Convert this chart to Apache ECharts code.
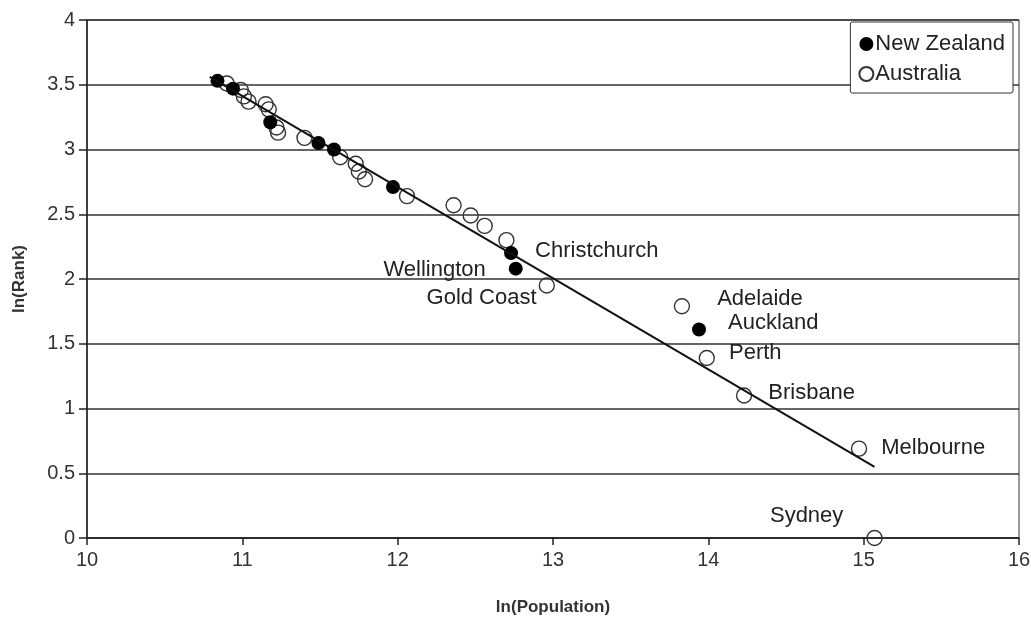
<!DOCTYPE html>
<html>
<head>
<meta charset="utf-8">
<script src="https://cdn.jsdelivr.net/npm/echarts@6/dist/echarts.min.js"></script>
<style>
html,body{margin:0;padding:0;background:#fff;}
#chart{width:1031px;height:619px;}
</style>
</head>
<body>
<div id="chart"></div>
<script>
// ---- data ----
var nzX = [10.84, 10.94, 11.18, 11.49, 11.59, 11.97, 12.73, 12.76, 13.94];
var nzY = [3.53, 3.47, 3.21, 3.05, 3.00, 2.71, 2.20, 2.08, 1.61];
var nzNames = ['', '', '', '', '', '', 'Christchurch', 'Wellington', 'Auckland'];

var auX = [10.90, 10.99, 11.01, 11.04, 11.15, 11.17, 11.22, 11.23, 11.40, 11.63, 11.73, 11.75, 11.79, 12.06, 12.36, 12.47, 12.56, 12.70, 12.96, 13.83, 13.99, 14.23, 14.97, 15.07];
var auY = [3.51, 3.46, 3.41, 3.37, 3.35, 3.31, 3.17, 3.13, 3.09, 2.94, 2.89, 2.83, 2.77, 2.64, 2.57, 2.49, 2.41, 2.30, 1.95, 1.79, 1.39, 1.10, 0.69, 0.00];
var auNames = ['', '', '', '', '', '', '', '', '', '', '', '', '', '', '', '', '', '', 'Gold Coast', 'Adelaide', 'Perth', 'Brisbane', 'Melbourne', 'Sydney'];

var trendX = [10.79, 15.07];
var trendY = [3.56, 0.55];

var seriesNames = ['New Zealand', 'Australia'];
var xTicks = {min: 10, max: 16, interval: 1};
var yTicks = {min: 0, max: 4, interval: 0.5};

// ---- label placement (style, not data) ----
var labelPlacement = {
  'Christchurch': {position: 'right', distance: 17, offset: [0, -2]},
  'Wellington':   {position: 'left',  distance: 23, offset: [0, 1]},
  'Auckland':     {position: 'right', distance: 22, offset: [0, -7]},
  'Gold Coast':   {position: 'left',  distance: 5,  offset: [3, 12]},
  'Adelaide':     {position: 'right', distance: 27, offset: [0, -7]},
  'Perth':        {position: 'right', distance: 14, offset: [0, -5]},
  'Brisbane':     {position: 'right', distance: 16, offset: [0, -3]},
  'Melbourne':    {position: 'right', distance: 14, offset: [0, -1]},
  'Sydney':       {position: 'left',  distance: 23, offset: [0, -22]}
};

var FONT = '"Liberation Sans", Arial, sans-serif';

function buildPoints(xs, ys, names) {
  return xs.map(function (x, i) {
    var item = {value: [x, ys[i]], name: names[i]};
    var p = labelPlacement[names[i]];
    if (names[i] && p) {
      item.label = {
        show: true,
        formatter: names[i],
        position: p.position,
        distance: p.distance,
        offset: p.offset,
        color: '#222',
        fontSize: 22,
        fontFamily: FONT
      };
    }
    return item;
  });
}

var chart = echarts.init(document.getElementById('chart'), null, {renderer: 'canvas'});

var option = {
  backgroundColor: '#fff',
  animation: false,
  grid: {
    left: 87, right: 12, top: 20, bottom: 81,
    outerBoundsMode: 'none',
    containLabel: false,
    show: true, borderColor: '#333', borderWidth: 1, backgroundColor: 'transparent'
  },
  legend: {
    data: seriesNames,
    orient: 'vertical',
    right: 18, top: 22,
    backgroundColor: '#fff',
    borderColor: '#333', borderWidth: 1, borderRadius: 2,
    padding: [11, 8, 8, 8],
    itemGap: 8,
    itemWidth: 14, itemHeight: 14,
    icon: 'circle',
    textStyle: {fontSize: 22, color: '#222', fontFamily: FONT, padding: [0, 0, 0, -3]}
  },
  xAxis: {
    type: 'value',
    min: xTicks.min, max: xTicks.max, interval: xTicks.interval,
    name: 'ln(Population)',
    nameLocation: 'middle',
    nameGap: 61,
    nameTextStyle: {fontSize: 17, fontWeight: 'bold', color: '#333', fontFamily: FONT},
    axisLine: {show: true, onZero: false, lineStyle: {color: '#222', width: 1.5}},
    axisTick: {show: true, inside: false, length: 7, lineStyle: {color: '#222', width: 1.5}},
    axisLabel: {fontSize: 20, color: '#333', margin: 12, fontFamily: FONT},
    splitLine: {show: false}
  },
  yAxis: {
    type: 'value',
    min: yTicks.min, max: yTicks.max, interval: yTicks.interval,
    name: 'ln(Rank)',
    nameLocation: 'middle',
    nameGap: 59,
    nameTextStyle: {fontSize: 17, fontWeight: 'bold', color: '#333', fontFamily: FONT},
    axisLine: {show: true, onZero: false, lineStyle: {color: '#222', width: 1.5}},
    axisTick: {show: true, inside: false, length: 8, lineStyle: {color: '#222', width: 1.5}},
    axisLabel: {fontSize: 20, color: '#333', margin: 12, fontFamily: FONT},
    splitLine: {show: true, lineStyle: {color: '#333', width: 1.5}}
  },
  series: [
    {
      name: seriesNames[1],
      type: 'scatter',
      z: 2,
      symbol: 'circle',
      symbolSize: 15,
      itemStyle: {color: 'rgba(255,255,255,0)', borderColor: '#333', borderWidth: 1.4, opacity: 1},
      data: buildPoints(auX, auY, auNames)
    },
    {
      name: seriesNames[0],
      type: 'scatter',
      z: 3,
      symbol: 'circle',
      symbolSize: 14,
      itemStyle: {color: '#000', borderColor: '#000', borderWidth: 0, opacity: 1},
      data: buildPoints(nzX, nzY, nzNames)
    },
    {
      name: 'trend',
      type: 'line',
      z: 4,
      showSymbol: false,
      symbol: 'none',
      silent: true,
      lineStyle: {color: '#111', width: 2},
      data: trendX.map(function (x, i) { return [x, trendY[i]]; })
    }
  ]
};

chart.setOption(option);
</script>
</body>
</html>
